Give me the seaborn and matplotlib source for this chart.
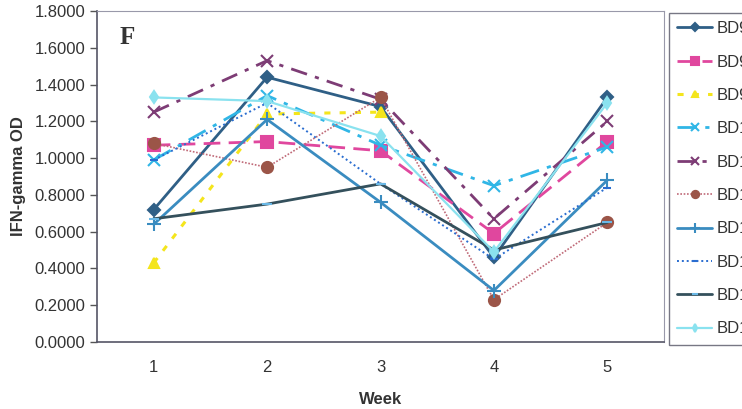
import numpy as np
import pandas as pd
import matplotlib
matplotlib.use("Agg")
import matplotlib.pyplot as plt
from matplotlib.ticker import FixedLocator, FormatStrFormatter
import seaborn as sns

# IFN-gamma optical density per animal over five weeks
weeks = [1, 2, 3, 4, 5]
labels = ["BD97", "BD98", "BD99", "BD100", "BD101",
          "BD102", "BD103", "BD104", "BD105", "BD106"]

bd97 = [0.72, 1.44, 1.28, 0.46, 1.33]
bd98 = [1.07, 1.09, 1.04, 0.59, 1.09]
bd99 = [0.43, 1.24, 1.25, np.nan, np.nan]
bd100 = [0.99, 1.34, 1.07, 0.85, 1.06]
bd101 = [1.25, 1.53, 1.32, 0.67, 1.20]
bd102 = [1.08, 0.95, 1.33, 0.23, 0.65]
bd103 = [0.64, 1.21, 0.76, 0.28, 0.88]
bd104 = [0.99, 1.30, 0.86, 0.45, 0.84]
bd105 = [0.67, 0.75, 0.86, 0.50, 0.65]
bd106 = [1.33, 1.31, 1.12, 0.49, 1.30]
series = [bd97, bd98, bd99, bd100, bd101, bd102, bd103, bd104, bd105, bd106]

yticks = [0.0, 0.2, 0.4, 0.6, 0.8, 1.0, 1.2, 1.4, 1.6, 1.8]

styles = [
    dict(color="#2f5f86", ls="-", lw=2.0, marker="D", ms=6, mfc="#2f5f86", mec="#2f5f86"),
    dict(color="#e0479e", ls=(0, (6, 3)), lw=2.0, marker="s", ms=8, mfc="#e0479e", mec="#e0479e"),
    dict(color="#f4e51c", ls=(0, (2, 3)), lw=2.2, marker="^", ms=7, mfc="#f4e51c", mec="#f4e51c"),
    dict(color="#30b6e6", ls=(0, (7, 3, 1.5, 3)), lw=2.0, marker="x", ms=8, mfc="#30b6e6", mec="#30b6e6"),
    dict(color="#7d3c75", ls=(0, (6, 3, 1.5, 3)), lw=2.0, marker="x", ms=8, mfc="#7d3c75", mec="#7d3c75"),
    dict(color="#c06a78", ls=(0, (1, 1)), lw=1.2, marker="o", ms=8, mfc="#9b5548", mec="#9b5548"),
    dict(color="#3a8cc0", ls="-", lw=2.0, marker="+", ms=10, mfc="#3a8cc0", mec="#3a8cc0"),
    dict(color="#2a6dd0", ls=(0, (1, 1.5)), lw=1.4, marker="_", ms=6, mfc="#2a6dd0", mec="#2a6dd0"),
    dict(color="#34505c", ls="-", lw=2.0, marker="_", ms=7, mfc="#6ab8e6", mec="#6ab8e6"),
    dict(color="#8ae2ef", ls="-", lw=1.6, marker="d", ms=6, mfc="#8ae2ef", mec="#8ae2ef"),
]

sns.set_theme(style="white")
plt.rcParams["font.family"] = ["Liberation Sans", "DejaVu Sans"]

fig = plt.figure(figsize=(7.42, 4.09), dpi=100)
ax = fig.add_axes([97 / 742, 1 - 342 / 409, (664 - 97) / 742, (342 - 11) / 409])

for name, vals, st in zip(labels, series, styles):
    df = pd.DataFrame({"Week": weeks, "OD": vals}).dropna()
    sns.lineplot(data=df, x="Week", y="OD", ax=ax, sort=False, label=name,
                 color=st["color"], linestyle=st["ls"], linewidth=st["lw"],
                 marker=st["marker"], markersize=st["ms"],
                 markerfacecolor=st["mfc"], markeredgecolor=st["mec"],
                 markeredgewidth=1.5, legend=False)

ax.set_xlim(0.5, 5.5)
ax.set_ylim(0, 1.8)
ax.set_yticks(yticks)
ax.yaxis.set_major_formatter(FormatStrFormatter("%.4f"))
ax.set_xticks(weeks)
ax.xaxis.set_minor_locator(FixedLocator([0.5, 1.5, 2.5, 3.5, 4.5, 5.5]))
ax.tick_params(axis="x", which="major", length=0, pad=13, labelsize=12, colors="#333333")
ax.tick_params(axis="x", which="minor", length=5, width=1, color="#555555", direction="out")
ax.tick_params(axis="y", length=5, width=1, color="#555555", direction="out",
               labelsize=12, colors="#333333", left=True)
ax.grid(False)

for side in ["left", "bottom"]:
    ax.spines[side].set_color("#555566")
    ax.spines[side].set_linewidth(1.2)
for side in ["top", "right"]:
    ax.spines[side].set_color("#9999aa")
    ax.spines[side].set_linewidth(0.8)

ax.set_xlabel("Week", fontsize=12, fontweight="bold", color="#333333", labelpad=12)
ax.set_ylabel("IFN-gamma OD", fontsize=12, fontweight="bold", color="#333333", labelpad=6)

ax.text(0.04, 0.92, "F", transform=ax.transAxes, fontsize=18, fontweight="bold",
        family=["Liberation Serif", "DejaVu Serif"], color="#333333", va="center")

handles, names = ax.get_legend_handles_labels()
leg = fig.legend(handles, names, loc="upper left", bbox_to_anchor=(669 / 742, 1 - 13 / 409),
                 fontsize=12, frameon=True, fancybox=False, handlelength=2.1,
                 handletextpad=0.25, labelspacing=1.1, borderpad=0.5, borderaxespad=0,
                 markerscale=0.65)
leg.get_frame().set_edgecolor("#555566")
leg.get_frame().set_linewidth(1.0)
for t in leg.get_texts():
    t.set_color("#333333")

fig.savefig("out.png", dpi=100)
